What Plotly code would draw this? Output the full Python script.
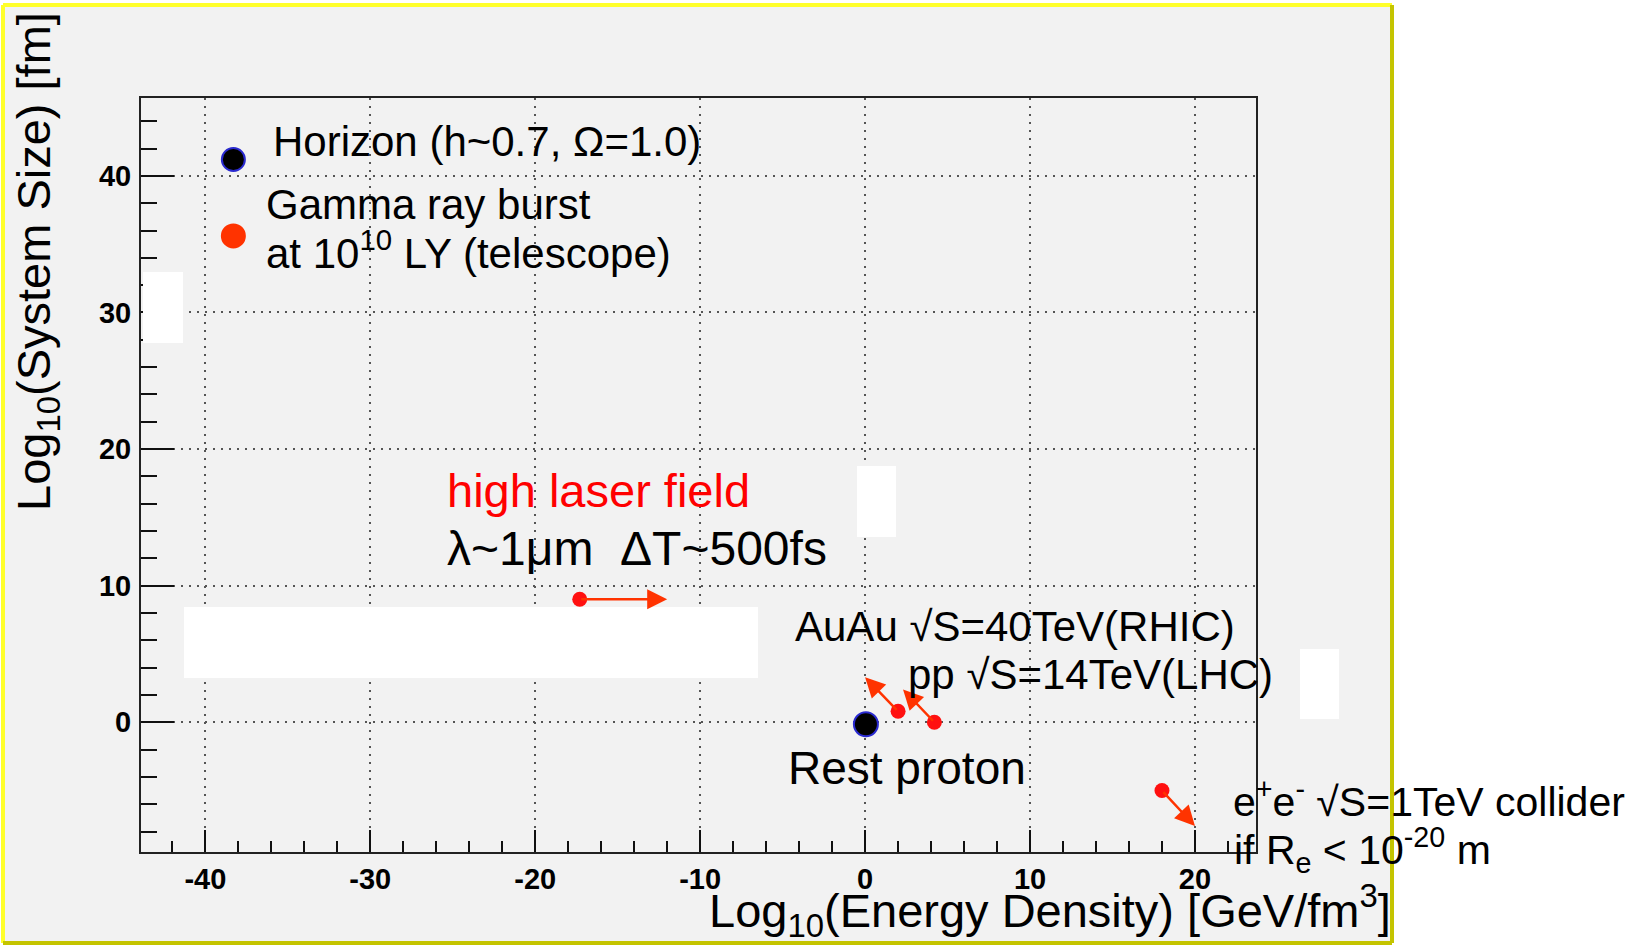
import plotly.graph_objects as go

# ---------------- data ----------------
x_range = [-43.9, 23.7]
y_range = [-9.5, 45.7]
x_ticks = [-40, -30, -20, -10, 0, 10, 20]
x_ticklabels = ["-40", "-30", "-20", "-10", "0", "10", "20"]
y_ticks = [0, 10, 20, 30, 40]
y_ticklabels = ["0", "10", "20", "30", "40"]

legend_x = [-38.3, -38.3]
legend_y = [41.2, 35.6]
legend_names = ["Horizon", "Gamma ray burst"]

rest_x = [0.05]
rest_y = [-0.15]

src_names = ["laser", "AuAu", "pp", "ee"]
src_x = [-17.3, 2.0, 4.2, 18.0]
src_y = [9.0, 0.8, 0.0, -5.0]
tip_x = [-12.0, 0.0, 2.3, 20.0]
tip_y = [9.0, 3.3, 2.4, -7.6]

# ---------------- geometry helpers (pixel -> paper) ----------------
W_FIG, H_FIG = 1649, 945
L, R, T, B = 141, 1256, 98, 852
PW, PH = R - L, B - T


def px(x):
    return (x - L) / PW


def py(y):
    return (B - y) / PH


fig = go.Figure()

# legend style markers
fig.add_trace(go.Scatter(
    x=legend_x, y=legend_y, mode="markers", name="legend",
    marker=dict(size=23, color=["black", "#ff3300"],
                line=dict(color=["#2a2ad0", "#ff3300"], width=2)),
    hoverinfo="skip", showlegend=False, cliponaxis=False))

# rest proton
fig.add_trace(go.Scatter(
    x=rest_x, y=rest_y, mode="markers", name="Rest proton",
    marker=dict(size=24, color="black", line=dict(color="#2a2ad0", width=2)),
    showlegend=False))

# source points
fig.add_trace(go.Scatter(
    x=src_x, y=src_y, mode="markers", name="sources",
    marker=dict(size=15, color="#ff1010", symbol="circle"),
    showlegend=False))

annotations = []
for sx, sy, tx, ty in zip(src_x, src_y, tip_x, tip_y):
    annotations.append(dict(
        x=tx, y=ty, ax=sx, ay=sy, xref="x", yref="y", axref="x", ayref="y",
        text="", showarrow=True, arrowhead=2, arrowsize=1.6, arrowwidth=2.5,
        arrowcolor="#ff3300", standoff=0, startstandoff=0))

FONT = "Liberation Sans"


def txt(text, x, y, size, color="black", xanchor="left", angle=0):
    annotations.append(dict(
        text=text, x=px(x), y=py(y), xref="paper", yref="paper",
        xanchor=xanchor, yanchor="middle", showarrow=False, textangle=angle,
        font=dict(family=FONT, size=size, color=color)))


txt("Horizon (h~0.7, Ω=1.0)", 271, 142, 42)
txt("Gamma ray burst", 264, 204, 42)
txt("at 10<sup>10</sup> LY (telescope)", 264, 250, 42)
txt("high laser field", 445, 490, 47, color="#ff0000")
txt("λ~1μm\u00a0\u00a0ΔT~500fs", 445, 548, 48)
txt("AuAu √S=40TeV(RHIC)", 793, 626, 42)
txt("pp √S=14TeV(LHC)", 906, 674, 42)
txt("Rest proton", 786, 768, 46)
txt("e<sup>+</sup>e<sup>-</sup> √S=1TeV collider", 1231, 799, 41)
txt("if R<sub>e</sub> &lt; 10<sup>-20</sup> m", 1232, 850, 41)
txt("Log<sub>10</sub>(Energy Density) [GeV/fm<sup>3</sup>]", 1393, 910, 47,
    xanchor="right")
txt("Log<sub>10</sub>(System Size) [fm]", 37, 262, 47, xanchor="center", angle=-90)

shapes = []
# grey panel
shapes.append(dict(type="rect", xref="paper", yref="paper",
                   x0=px(3), x1=px(1392), y0=py(943), y1=py(5),
                   fillcolor="#f2f2f2", line=dict(width=0), layer="below"))
# yellow borders
for (x0, y0, x1, y1, c) in [(3, 5, 1392, 5, "#ffff2a"), (3, 5, 3, 943, "#ffff2a"),
                            (1392, 5, 1392, 943, "#c4c400"),
                            (3, 943, 1392, 943, "#c4c400")]:
    shapes.append(dict(type="line", xref="paper", yref="paper",
                       x0=px(x0), x1=px(x1), y0=py(y0), y1=py(y1),
                       line=dict(color=c, width=4), layer="above"))
# white patches
for (x0, y0, x1, y1) in [(143, 272, 183, 343), (184, 607, 758, 678),
                         (857, 466, 896, 537), (1300, 649, 1339, 719)]:
    shapes.append(dict(type="rect", xref="paper", yref="paper",
                       x0=px(x0), x1=px(x1), y0=py(y1), y1=py(y0),
                       fillcolor="white", line=dict(width=0), layer="above"))

axis_common = dict(
    showline=True, linecolor="#222222", linewidth=2, mirror=True,
    showgrid=True, gridcolor="#555555", gridwidth=1.5, griddash="2px,6px",
    zeroline=False, ticks="inside", tickcolor="#111111", tickwidth=2,
    tickfont=dict(family=FONT, size=29, color="black", weight="bold"),
)

fig.update_layout(
    width=W_FIG, height=H_FIG,
    margin=dict(l=L, r=W_FIG - R, t=T, b=H_FIG - B, autoexpand=False),
    paper_bgcolor="white", plot_bgcolor="rgba(0,0,0,0)",
    showlegend=False,
    xaxis=dict(range=x_range, tickvals=x_ticks, ticktext=x_ticklabels,
               ticklen=22, ticklabelstandoff=0,
               minor=dict(dtick=2, ticks="inside", ticklen=11, tickwidth=2,
                          tickcolor="#111111", showgrid=False),
               **axis_common),
    yaxis=dict(range=y_range, tickvals=y_ticks, ticktext=y_ticklabels,
               ticklen=33, ticklabelstandoff=2,
               minor=dict(dtick=2, ticks="inside", ticklen=16, tickwidth=2,
                          tickcolor="#111111", showgrid=False),
               **axis_common),
    annotations=annotations,
    shapes=shapes,
)

fig.write_html("out.html", config={"displayModeBar": False},
               post_script="document.body.style.margin='0px';")
